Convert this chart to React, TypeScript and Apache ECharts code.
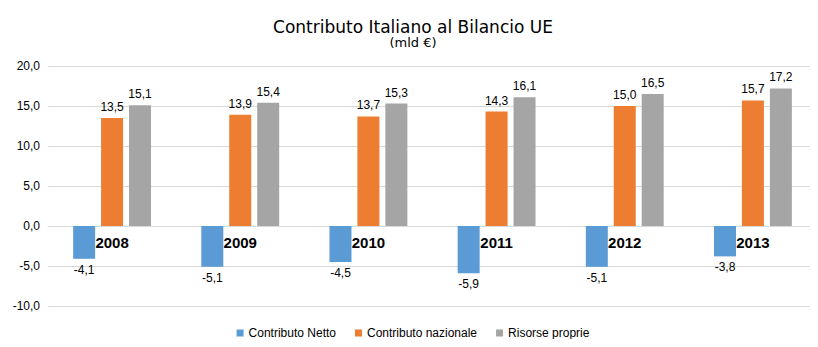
import React, { useEffect, useRef } from "react";
import * as echarts from "echarts";

const categories = ["2008", "2009", "2010", "2011", "2012", "2013"];
const contributoNetto = [-4.1, -5.1, -4.5, -5.9, -5.1, -3.8];
const contributoNazionale = [13.5, 13.9, 13.7, 14.3, 15.0, 15.7];
const risorseProprie = [15.1, 15.4, 15.3, 16.1, 16.5, 17.2];
const seriesNames = ["Contributo Netto", "Contributo nazionale", "Risorse proprie"];
const colors = ["#5B9BD5", "#ED7D31", "#A5A5A5"];

const fmt = (v: number) => v.toFixed(1).replace(".", ",");
const TFONT = "'DejaVu Sans', sans-serif";
const NFONT = "'Liberation Sans', Arial, sans-serif";

export default function App() {
  const ref = useRef<HTMLDivElement>(null);
  useEffect(() => {
    if (!ref.current) return;
    const chart = echarts.init(ref.current, null, { renderer: "svg" });
    const mk = (name: string, data: number[], color: string) => ({
      name,
      type: "bar",
      data,
      barWidth: 22,
      barGap: "27%",
      itemStyle: { color },
      label: {
        show: true,
        position: "outside",
        formatter: (p: any) => fmt(p.value),
        fontSize: 12,
        fontFamily: NFONT,
        color: "#000",
        distance: 5,
      },
    });
    chart.setOption({
      animation: false,
      title: {
        text: "Contributo Italiano al Bilancio UE",
        subtext: "(mld €)",
        left: "center",
        top: 5,
        itemGap: 1,
        textStyle: { fontSize: 17, fontWeight: "normal", color: "#000", fontFamily: TFONT },
        subtextStyle: { fontSize: 13, color: "#000", fontFamily: TFONT },
      },
      legend: {
        top: 314,
        left: "center",
        itemWidth: 7,
        itemHeight: 7,
        itemGap: 19,
        icon: "rect",
        textStyle: { fontSize: 12, color: "#000", fontFamily: NFONT },
        data: seriesNames,
      },
      grid: { left: 40, right: 1, top: 58, bottom: 33, containLabel: false },
      xAxis: {
        type: "category",
        data: categories,
        position: "bottom",
        offset: -80,
        axisLine: { onZero: false, lineStyle: { color: "#D9D9D9" } },
        axisTick: { show: false },
        axisLabel: {
          fontSize: 15,
          fontWeight: "bold",
          color: "#000",
          margin: 9,
          fontFamily: NFONT,
        },
      },
      yAxis: {
        type: "value",
        min: -10,
        max: 20,
        interval: 5,
        axisLine: { show: false },
        axisTick: { show: false },
        splitLine: { lineStyle: { color: "#D9D9D9" } },
        axisLabel: {
          formatter: (v: number) => fmt(v),
          fontSize: 12,
          color: "#000",
          margin: 8,
          fontFamily: NFONT,
        },
      },
      series: [
        mk(seriesNames[0], contributoNetto, colors[0]),
        mk(seriesNames[1], contributoNazionale, colors[1]),
        mk(seriesNames[2], risorseProprie, colors[2]),
      ],
    });
    return () => chart.dispose();
  }, []);
  return <div ref={ref} style={{ width: 810, height: 331 }} />;
}
